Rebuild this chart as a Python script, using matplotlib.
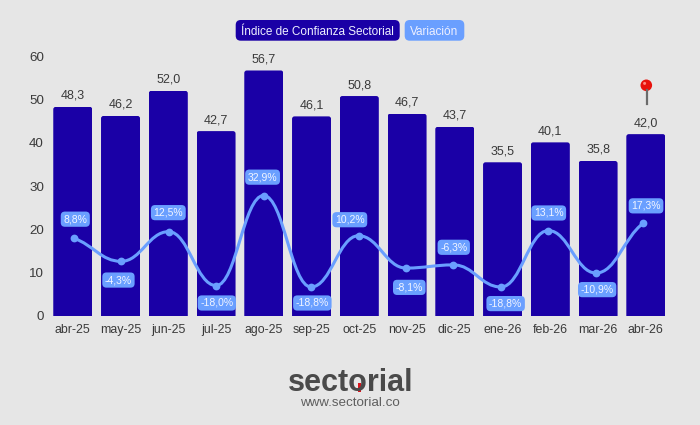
import matplotlib
matplotlib.use("Agg")
import matplotlib.pyplot as plt
from matplotlib.patches import FancyBboxPatch, PathPatch, Circle, Rectangle
from matplotlib.path import Path
from matplotlib.lines import Line2D
from matplotlib.transforms import IdentityTransform

plt.rcParams['font.family'] = ['Liberation Sans', 'DejaVu Sans']

months = ["abr-25", "may-25", "jun-25", "jul-25", "ago-25", "sep-25", "oct-25",
          "nov-25", "dic-25", "ene-26", "feb-26", "mar-26", "abr-26"]
indice = [48.3, 46.2, 52.0, 42.7, 56.7, 46.1, 50.8, 46.7, 43.7, 35.5, 40.1, 35.8, 42.0]
variacion = [8.8, -4.3, 12.5, -18.0, 32.9, -18.8, 10.2, -8.1, -6.3, -18.8, 13.1, -10.9, 17.3]

# label offsets from the line points, in pixels
var_offsets = [(1.6, 20), (-2.7, -17.7), (-0.3, 20), (0.7, -16.4), (-1, 19.4), (1.3, -15),
               (-8.7, 17), (3.3, -18.3), (0.3, 18.6), (4.7, -15.6), (0.3, 18.6), (1.3, -15.6),
               (2.7, 18.3)]

BG = "#e6e6e6"
BAR = "#1a00a6"
LINE = "#6a9fff"
TXT = "#3a3a3a"
W, H = 700, 425


def comma(v, suffix=""):
    return "{:.1f}".format(v).replace(".", ",") + suffix


def px(x, y):
    # picture pixel (y down) to display coordinates
    return x, H - y


def pill(x0, y0, x1, y1, color, text):
    fig.add_artist(FancyBboxPatch(px(x0 + 5, y1 - 5), x1 - x0 - 10, y1 - y0 - 10,
                                  boxstyle="round,pad=5,rounding_size=5", fc=color, ec="none",
                                  transform=IdentityTransform()))
    fig.text((x0 + x1) / 2 / W, 1 - (y0 + y1) / 2 / H, text, color="#eef0ff", fontsize=8.5,
             ha="center", va="center_baseline")


fig = plt.figure(figsize=(7, 4.25), dpi=100, facecolor=BG)
rect = [48.9 / W, 1 - 316 / H, (669.7 - 48.9) / W, (316 - 56.2) / H]

#### bars
ax = fig.add_axes(rect, facecolor="none")
x = list(range(len(months)))
bars = ax.bar(x, indice, width=0.817, color=BAR)
ax.set_xlim(-0.5, 12.5)
ax.set_ylim(0, 60)
ax.set_xticks(x, months)
ax.set_yticks(range(0, 61, 10))
ax.tick_params(axis='x', length=0, pad=6, labelsize=8.9, labelcolor=TXT)
ax.tick_params(axis='y', length=0, pad=3.6, labelsize=9.6, labelcolor=TXT)
for s in ax.spines.values():
    s.set_visible(False)

# rounded tops on the bars
x_per_px = 13 / (669.7 - 48.9)
y_per_px = 60 / (316 - 56.2)
for b, v in zip(bars, indice):
    clip = FancyBboxPatch((b.get_x(), -5), b.get_width(), v + 5,
                          boxstyle="round,pad=0,rounding_size={}".format(2.5 * x_per_px),
                          mutation_aspect=y_per_px / x_per_px, transform=ax.transData)
    b.set_clip_path(clip)
    ax.annotate(comma(v), (b.get_x() + b.get_width() / 2, v), xytext=(0, 11), textcoords="offset pixels",
                ha="center", va="center", fontsize=9, color=TXT)

#### variation line, its own scale
ax2 = fig.add_axes(rect, facecolor="none")
ax2.set_xlim(-0.522, 12.555)
ax2.set_ylim(-35.2, 111.7)
ax2.axis("off")

n = len(x)
verts = [(x[0], variacion[0])]
codes = [Path.MOVETO]
for i in range(n - 1):
    # flat tangents at each point, the series turns at nearly all of them
    mid = 0.42
    start_y = variacion[i] if i > 0 else variacion[i] + (variacion[i + 1] - variacion[i]) * mid * 0.7
    end_y = variacion[i + 1] if i < n - 2 else variacion[i + 1] + (variacion[i] - variacion[i + 1]) * mid * 0.7
    verts += [(x[i] + mid, start_y), (x[i + 1] - mid, end_y), (x[i + 1], variacion[i + 1])]
    codes += [Path.CURVE4, Path.CURVE4, Path.CURVE4]
ax2.add_patch(PathPatch(Path(verts, codes), fc="none", ec=LINE, lw=2.2, capstyle="round"))
ax2.plot(x, variacion, ls="none", marker="o", ms=5.6, color=LINE, mew=0)

for xi, v, off in zip(x, variacion, var_offsets):
    ax2.annotate(comma(v, "%"), (xi, v), xytext=off, textcoords="offset pixels", ha="center",
                 va="center_baseline", fontsize=7.5, color="#f2f5ff",
                 bbox=dict(boxstyle="round,pad=0.25,rounding_size=0.4", fc=LINE, ec="none"))

#### legend
pill(235.7, 20, 399.7, 40.7, BAR, "Índice de Confianza Sectorial")
pill(404.7, 20, 464.3, 40.7, LINE, "Variación")

#### pin over the last bar
fig.add_artist(Line2D([646.7, 646.7], [H - 90, H - 103.7], color="#6b6b6b", lw=1.6,
                      transform=IdentityTransform()))
fig.add_artist(Circle(px(646.3, 85.3), 5.8, fc="#e8120c", ec="none", transform=IdentityTransform()))
fig.add_artist(Circle(px(644.6, 83.4), 1.5, fc="#ff8a80", ec="none", transform=IdentityTransform()))

#### logo
fig.text(350.7 / W, 1 - 390.7 / H, "sectorial", fontsize=22, fontweight="bold", color="#4a4a4a",
         ha="center", va="baseline")
fig.add_artist(Rectangle(px(358, 391.5), 3, 9, fc="#d8141c", ec="none", transform=IdentityTransform()))
fig.text(350 / W, 1 - 406.5 / H, "www.sectorial.co", fontsize=9.6, color="#5e5e5e", ha="center", va="baseline")

fig.savefig("out.png", dpi=100, facecolor=BG)
